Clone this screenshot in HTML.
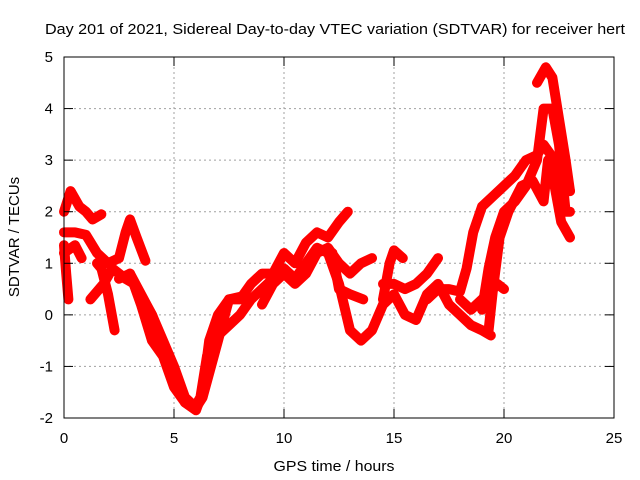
<!DOCTYPE html>
<html><head><meta charset="utf-8"><style>
html,body{margin:0;padding:0;background:#fff}
svg{display:block;font-family:"Liberation Sans",sans-serif}
</style></head><body>
<svg width="640" height="480" viewBox="0 0 640 480">
<g id="grid"></g>
<g id="series"></g>
<rect x="64" y="57" width="550" height="361" fill="none" stroke="#000" stroke-width="1"/>
<g id="ticks"></g>
<text x="335" y="34" text-anchor="middle" font-size="15" textLength="580" lengthAdjust="spacingAndGlyphs">Day 201 of 2021, Sidereal Day-to-day VTEC variation (SDTVAR) for receiver hert</text>
<text x="334" y="471" text-anchor="middle" font-size="15" textLength="121" lengthAdjust="spacingAndGlyphs">GPS time / hours</text>
<text transform="translate(19,237) rotate(-90)" text-anchor="middle" font-size="15">SDTVAR / TECUs</text>
</svg>
<script>
const xTicks=[0,5,10,15,20,25];
const yTicks=[-2,-1,0,1,2,3,4,5];
const trA=[[0,2.0],[0.3,2.4],[0.7,2.1],[1.0,2.0],[1.3,1.85],[1.7,1.95]];
const trB=[[0,1.6],[0.5,1.6],[1.0,1.55],[1.5,1.2],[2.0,1.0],[2.5,1.1],[2.8,1.6],[3.0,1.85],[3.3,1.5],[3.7,1.05]];
const trC=[[0,1.35],[0.1,0.8],[0.2,0.3]];
const trC2=[[0,1.2],[0.5,1.35],[0.8,1.1]];
const trD=[[1.2,0.3],[1.8,0.6],[2.2,0.9],[2.8,0.7],[3.2,0.6],[3.6,0.3],[4.0,0.0],[4.5,-0.5],[5.0,-1.0],[5.5,-1.6],[6.0,-1.8],[6.3,-1.6],[7.0,-0.5],[7.5,0.3],[8.0,0.35]];
const trE=[[1.5,1.0],[1.7,0.9],[2.0,0.4],[2.3,-0.3]];
const trF=[[2.5,0.7],[3.0,0.8],[3.5,0.4],[4.0,0.0],[4.5,-0.6],[5.0,-1.2],[5.5,-1.7],[6.0,-1.85],[6.3,-1.5],[6.6,-0.5],[7.0,0.0],[7.5,0.3],[8.0,0.3],[8.5,0.6],[9.0,0.8],[9.5,0.8],[10.0,1.2],[10.5,1.0],[11.0,1.4],[11.5,1.6],[12.0,1.5],[12.5,1.8],[12.9,2.0]];
const trG=[[3.0,0.8],[3.5,0.2],[4.0,-0.5],[4.5,-0.8],[5.0,-1.4],[5.5,-1.7],[6.0,-1.75],[6.2,-1.6],[6.5,-0.8],[7.0,-0.4],[7.5,-0.2],[8.0,0.0],[8.5,0.3],[9.0,0.5],[9.5,0.7],[10.0,0.9],[10.5,0.7],[11.0,1.0],[11.5,1.3],[12.0,1.2],[12.5,0.6],[13.0,-0.3],[13.5,-0.5],[14.0,-0.3],[14.5,0.2],[15.0,0.4],[15.5,0.0],[16.0,-0.1],[16.5,0.4],[17.0,0.6],[17.5,0.2],[18.0,0.0],[18.5,-0.2],[19.0,-0.3],[19.4,-0.4]];
const trH=[[9.0,0.2],[9.5,0.6],[10.0,0.8],[10.5,0.6],[11.0,0.8],[11.5,1.2],[12.0,1.3],[12.5,1.0],[13.0,0.8],[13.5,1.0],[14.0,1.1]];
const trI=[[12.2,1.2],[12.5,0.5],[13.0,0.4],[13.6,0.3]];
const trJ=[[14.5,0.3],[14.8,1.0],[15.0,1.25],[15.4,1.1]];
const trK=[[14.5,0.6],[15.0,0.6],[15.5,0.5],[16.0,0.6],[16.5,0.8],[17.0,1.1]];
const trL=[[16.5,0.3],[17.0,0.5],[17.5,0.5],[18.0,0.45],[18.3,0.9],[18.6,1.6],[19.0,2.1],[19.5,2.3],[20.0,2.5],[20.5,2.7],[21.0,3.0],[21.5,3.1],[21.8,3.3],[22.3,3.0],[22.6,2.6],[23.0,2.4]];
const trM=[[18.0,0.3],[18.5,0.1],[19.0,0.3],[19.5,0.5],[19.7,0.6],[20.0,0.5]];
const trN=[[19.0,0.1],[19.3,0.9],[19.6,1.5],[20.0,2.0],[20.5,2.2],[21.0,2.5],[21.5,3.0],[21.8,4.0],[22.2,4.0],[22.5,3.3],[22.8,2.0],[23.0,2.0]];
const trO=[[19.3,-0.3],[19.5,0.5],[19.8,1.5],[20.2,2.0],[20.8,2.5],[21.3,2.6],[21.8,2.2],[22.0,3.0],[22.3,2.5],[22.6,1.8],[23.0,1.5]];
const trP=[[21.5,4.5],[21.9,4.8],[22.2,4.6],[22.5,3.8],[22.8,3.0],[23.0,2.4]];
const traces=[trA,trB,trC,trC2,trD,trE,trF,trG,trH,trI,trJ,trK,trL,trM,trN,trO,trP];
const X=v=>64+v*22, Y=v=>418-(v+2)*(361/7);
const NS='http://www.w3.org/2000/svg';
function mk(t,a,p){const e=document.createElementNS(NS,t);for(const k in a)e.setAttribute(k,a[k]);p.appendChild(e);return e;}
const grid=document.getElementById('grid'),ticks=document.getElementById('ticks'),ser=document.getElementById('series');
xTicks.forEach(t=>{const x=X(t);
 if(t>0&&t<25){const g=mk('line',{x1:x,x2:x,y1:57,y2:418,stroke:'#a0a0a0','stroke-dasharray':'2,3'},grid);
 
 }
 mk('line',{x1:x,x2:x,y1:418,y2:409,stroke:'#000'},ticks);mk('line',{x1:x,x2:x,y1:57,y2:66,stroke:'#000'},ticks);
 const l=mk('text',{x:x,y:443,'text-anchor':'middle','font-size':'15'},ticks);l.textContent=t;
 
 });
yTicks.forEach(t=>{const y=Y(t);
 if(t>-2&&t<5){const g=mk('line',{x1:64,x2:614,y1:y,y2:y,stroke:'#a0a0a0','stroke-dasharray':'2,3'},grid);
 
 }
 mk('line',{x1:64,x2:73,y1:y,y2:y,stroke:'#000'},ticks);mk('line',{x1:605,x2:614,y1:y,y2:y,stroke:'#000'},ticks);
 const l=mk('text',{x:53,y:y+5,'text-anchor':'end','font-size':'15'},ticks);l.textContent=t;
 
 });
traces.forEach(tr=>{const p=mk('polyline',{points:tr.map(d=>X(d[0])+','+Y(d[1])).join(' '),fill:'none',stroke:'#ff0000','stroke-width':'10','stroke-linejoin':'round','stroke-linecap':'round'},ser);
 
 });
</script>
</body></html>
